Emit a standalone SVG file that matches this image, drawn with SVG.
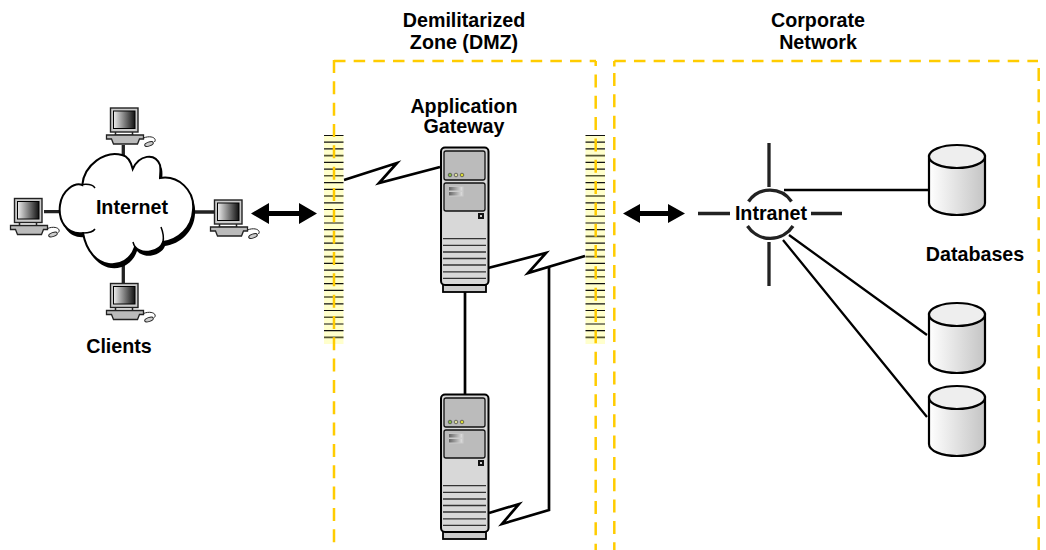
<svg xmlns="http://www.w3.org/2000/svg" xmlns:xlink="http://www.w3.org/1999/xlink" width="1046" height="550" viewBox="0 0 1046 550">
<style>
text{font-family:"Liberation Sans",Arial,sans-serif;font-weight:700;font-size:19.700px;fill:#000;text-anchor:middle}
.zone{fill:none;stroke:#ffcc00;stroke-width:2.500}
.h{stroke-dasharray:11.500 8.170}
.v{stroke-dasharray:13 8.330}
.wire{fill:none;stroke:#000;stroke-width:2.700;stroke-linejoin:miter}
.thin{fill:none;stroke:#000;stroke-width:2.300}
.spoke{fill:none;stroke:#222;stroke-width:3.300}
.dbl{fill:#000;stroke:none}
</style>
<defs>
<linearGradient id="scr" x1="0" x2="1" y1="0" y2="0"><stop offset="0" stop-color="#eee"/><stop offset="1" stop-color="#111"/></linearGradient>
<linearGradient id="cyl" x1="0" x2="1" y1="0" y2="0"><stop offset="0" stop-color="#fff"/><stop offset="1" stop-color="#c4c4c4"/></linearGradient>
<linearGradient id="bay" x1="0" x2="1" y1="0" y2="0"><stop offset="0" stop-color="#666"/><stop offset="1" stop-color="#ddd"/></linearGradient>
<path id="cloud" d="M82.300 185C84 165 105 150 122 155C127 156 131 162 132.700 169C139 155 155 152 160 165C161 170 160 175 160 178C178 175 195 190 193 210C192 228 178 240 163 242C160 251 143 256 135 247C127 272 90 272 83 233C66 235 58 220 60 205C62 190 75 182 82.300 185Z"/>
<g id="pc">
<rect x="0" y="0" width="27.500" height="24" fill="#ccc" stroke="#222" stroke-width="1.400"/>
<rect x="3" y="3" width="21.500" height="17.500" fill="url(#scr)" stroke="#000" stroke-width="1"/>
<path d="M5 24V27M22 24V27" stroke="#222" stroke-width="1.500"/>
<path d="M4 27H23" stroke="#222" stroke-width="1"/>
<path d="M-4 27H33V31H29L27 36H3L1 31H-4Z" fill="#bbb" stroke="#222" stroke-width="1.300"/>
<path d="M33 30C40 27 47 30 44 34" fill="none" stroke="#222" stroke-width="1"/>
<ellipse cx="38.500" cy="36" rx="4.500" ry="2" fill="#ccc" stroke="#222" stroke-width="1" transform="rotate(-20 38.500 36)"/>
</g>
<g id="fw">
<rect x="0" y="0" width="19.500" height="209" fill="#ffffcc"/>
<path d="M0 .5H19.500M0 7.200H19.500M0 13.900H19.500M0 27.400H19.500M0 34.100H19.500M0 47.600H19.500M0 54.300H19.500M0 67.800H19.500M0 74.500H19.500M0 88H19.500M0 94.700H19.500M0 108.200H19.500M0 114.900H19.500M0 128.400H19.500M0 135.100H19.500M0 148.600H19.500M0 155.300H19.500M0 168.800H19.500M0 175.500H19.500M0 189H19.500M0 195.700H19.500" stroke="#111" stroke-width="1.200"/>
<path d="M0 20.600H19.500M0 40.800H19.500M0 61H19.500M0 81.200H19.500M0 101.400H19.500M0 121.600H19.500M0 141.800H19.500M0 162H19.500M0 182.200H19.500M0 202.400H19.500" stroke="#555533" stroke-width="1.600"/>
</g>
<g id="srv">
<rect x="443" y="284" width="43" height="8" fill="#ccc" stroke="#000" stroke-width="1.800"/>
<rect x="441" y="147.500" width="47.500" height="137.500" rx="4" fill="#d8d8d8" stroke="#000" stroke-width="2"/>
<rect x="444" y="151" width="41" height="29" rx="2" fill="#bbb" stroke="#111" stroke-width="1.300"/>
<rect x="444" y="183" width="41" height="28" rx="2" fill="#bbb" stroke="#111" stroke-width="1.300"/>
<circle cx="450" cy="175" r="1.800" fill="#88bb44" stroke="#444" stroke-width=".7"/>
<circle cx="456" cy="175" r="1.800" fill="#dddd99" stroke="#444" stroke-width=".7"/>
<circle cx="462" cy="175" r="1.800" fill="#dddd33" stroke="#444" stroke-width=".7"/>
<rect x="449" y="186.500" width="14.500" height="10" fill="#ccc"/>
<rect x="449" y="187" width="13" height="3.500" fill="url(#bay)"/>
<rect x="449" y="192" width="13" height="3.500" fill="url(#bay)"/>
<rect x="478" y="213" width="6" height="6" fill="#111"/>
<rect x="480" y="215" width="2" height="2" fill="#ccc"/>
<path d="M443 238.700H486M443 245.300H486M443 252H486M443 258.500H486M443 265H486M443 271.800H486M443 278.400H486" stroke="#333" stroke-width="1.300"/>
</g>
<g id="db">
<path d="M1 12V59C1 66 14 71 29 71S57 66 57 59V12Z" fill="url(#cyl)" stroke="#000" stroke-width="2.200"/>
<ellipse cx="29" cy="12.500" rx="28" ry="11.500" fill="#eee" stroke="#000" stroke-width="2.200"/>
</g>
</defs>
<rect width="1046" height="550" fill="#fff"/>

<g id="connectors">
<path class="spoke" d="M123.300 145V160M44 211.700H62M193 212H214M123.300 265V284"/>
<path class="wire" d="M344 180L397 163L379 183L440 167"/>
<path class="wire" d="M488 268L546 253L528 273L585 256"/>
<path class="wire" d="M549 267V510L502 524L519 504L489 513"/>
<path class="wire" d="M465 292V394"/>
<path class="thin" d="M784 190H928M789 235L927 335M783 240L927 417"/>
<path class="dbl" d="M251 213.500L269 203V211H299V203L317 213.500L299 224V216H269V224Z"/>
<path class="dbl" d="M623 213.500L640 204V211H668V204L685 213.500L668 223V216H640V223Z"/>
</g>

<g id="firewall-left"><use xlink:href="#fw" x="324" y="135"/></g>
<g id="firewall-right"><use xlink:href="#fw" x="585.500" y="135"/></g>
<g id="zone-dmz">
<path class="zone h" d="M334 61H596"/>
<path class="zone v" d="M334 60V550"/>
<path class="zone" d="M595.700 61V66"/>
<path class="zone v" d="M595.700 74.400V550"/>
</g>
<g id="zone-corp">
<path class="zone h" d="M614.300 61H1038"/>
<path class="zone" d="M614.300 61V66.500"/>
<path class="zone v" d="M614.300 73V550"/>
<path class="zone v" d="M1038.700 68V550"/>
</g>

<g id="internet">
<use xlink:href="#cloud" fill="#000" transform="translate(2 4)"/>
<use xlink:href="#cloud" fill="#fff" stroke="#000" stroke-width="2"/>
<path d="M83 184.500C88 184 93 185 95 188M83 233C88 233 93 232 95 229M161 227C163 232 164 237 163 242M135 247C134 245 133.500 244 133 242" fill="none" stroke="#000" stroke-width="1.500"/>
<text x="132" y="214">Internet</text>
</g>
<g id="client-top"><use xlink:href="#pc" x="110.500" y="108"/></g>
<g id="client-left"><use xlink:href="#pc" x="14.500" y="198.500"/></g>
<g id="client-right"><use xlink:href="#pc" x="214.500" y="200"/></g>
<g id="client-bottom"><use xlink:href="#pc" x="110.500" y="283.500"/></g>
<g id="clients-label"><text x="119" y="353">Clients</text></g>

<g id="gateway-1"><use xlink:href="#srv"/></g>
<g id="gateway-2"><use xlink:href="#srv" y="247"/></g>
<g id="gateway-label"><text x="464" y="112.500">Application</text><text x="464" y="133">Gateway</text></g>
<g id="dmz-label"><text x="464" y="26.700">Demilitarized</text><text x="464" y="49">Zone (DMZ)</text></g>
<g id="corp-label"><text x="818" y="26.700">Corporate</text><text x="818" y="49">Network</text></g>

<g id="intranet">
<path class="spoke" d="M769 143V187M769 242V286M698 213.500H730M811 213.500H842"/>
<path class="spoke" d="M748.500 201.500A26 26 0 0 1 791.500 201.500M747.500 226A27 27 0 0 0 793 226"/>
<text x="771" y="220">Intranet</text>
</g>
<g id="db-1"><use xlink:href="#db" x="928" y="144"/></g>
<g id="db-2"><use xlink:href="#db" x="928" y="302"/></g>
<g id="db-3"><use xlink:href="#db" x="928" y="385"/></g>
<g id="databases-label"><text x="975" y="261">Databases</text></g>
</svg>
